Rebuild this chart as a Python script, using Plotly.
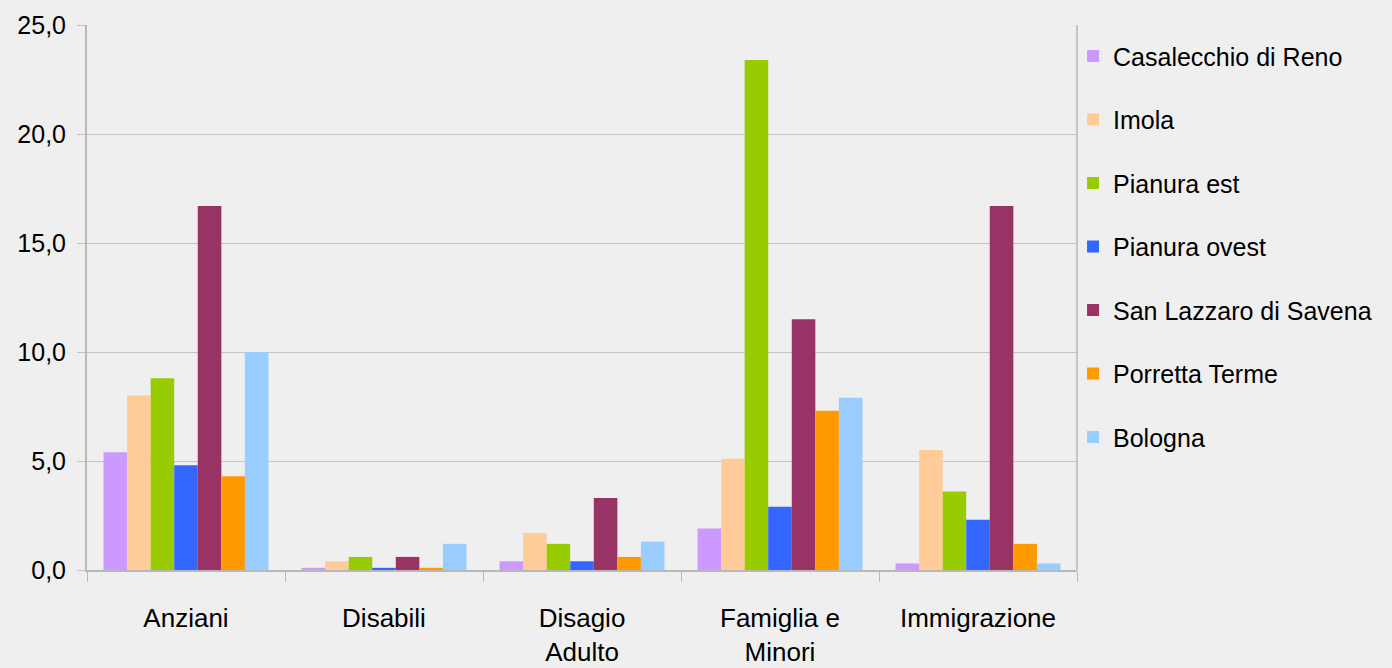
import plotly.graph_objects as go

categories = ["Anziani", "Disabili", "Disagio<br>Adulto", "Famiglia e<br>Minori", "Immigrazione"]
series_names = ["Casalecchio di Reno", "Imola", "Pianura est", "Pianura ovest",
                "San Lazzaro di Savena", "Porretta Terme", "Bologna"]
casalecchio = [5.4, 0.1, 0.4, 1.9, 0.3]
imola = [8.0, 0.4, 1.7, 5.1, 5.5]
pianura_est = [8.8, 0.6, 1.2, 23.4, 3.6]
pianura_ovest = [4.8, 0.1, 0.4, 2.9, 2.3]
san_lazzaro = [16.7, 0.6, 3.3, 11.5, 16.7]
porretta = [4.3, 0.1, 0.6, 7.3, 1.2]
bologna = [10.0, 1.2, 1.3, 7.9, 0.3]
y_ticks = [0, 5, 10, 15, 20, 25]
y_tick_labels = ["0,0", "5,0", "10,0", "15,0", "20,0", "25,0"]

colors = ["#CC99FF", "#FFCC99", "#99CC00", "#3366FF", "#993366", "#FF9900", "#99CCFF"]
all_values = [casalecchio, imola, pianura_est, pianura_ovest, san_lazzaro, porretta, bologna]

fig = go.Figure()
for i, (name, vals) in enumerate(zip(series_names, all_values)):
    fig.add_trace(go.Bar(x=categories, y=vals, name=name, marker_color=colors[i],
                         marker_line_width=0, legendgroup=f"g{i}"))

font_family = "Liberation Sans, Arial, sans-serif"
bg = "#efefef"
fig.update_layout(
    width=1392, height=668,
    margin=dict(l=87, r=315, t=25, b=98, autoexpand=False),
    paper_bgcolor=bg, plot_bgcolor=bg,
    barmode="group", bargap=0.167, bargroupgap=0,
    font=dict(family=font_family, size=25, color="black"),
    legend=dict(x=0.996, xanchor="left", y=0.985, yanchor="top",
                font=dict(size=25), tracegroupgap=28, traceorder="grouped",
                bgcolor="rgba(0,0,0,0)"),
    showlegend=True,
)
fig.update_xaxes(showline=True, linecolor="#b8b8b8", linewidth=2, ticks="outside",
                 tickson="boundaries", ticklen=10, tickcolor="#b8b8b8", tickwidth=1,
                 ticklabelstandoff=24, showgrid=False, mirror=False, automargin=False,
                 tickfont=dict(size=26))
fig.update_yaxes(range=[0, 25], tickvals=y_ticks, ticktext=y_tick_labels,
                 showline=True, linecolor="#b8b8b8", linewidth=2, ticks="outside",
                 ticklen=8, tickcolor="#c4c4c4", showgrid=True, gridcolor="#c4c4c4",
                 gridwidth=1, zeroline=False, ticklabelstandoff=6, automargin=False,
                 tickfont=dict(size=25))
# right border line of plot area
fig.add_shape(type="line", xref="paper", yref="paper", x0=1, x1=1, y0=0, y1=1,
              line=dict(color="#b8b8b8", width=1.5))

fig.write_html("out.html", config={"displayModeBar": False},
               post_script="document.body.style.margin='0';document.body.style.background='%s';" % bg)
